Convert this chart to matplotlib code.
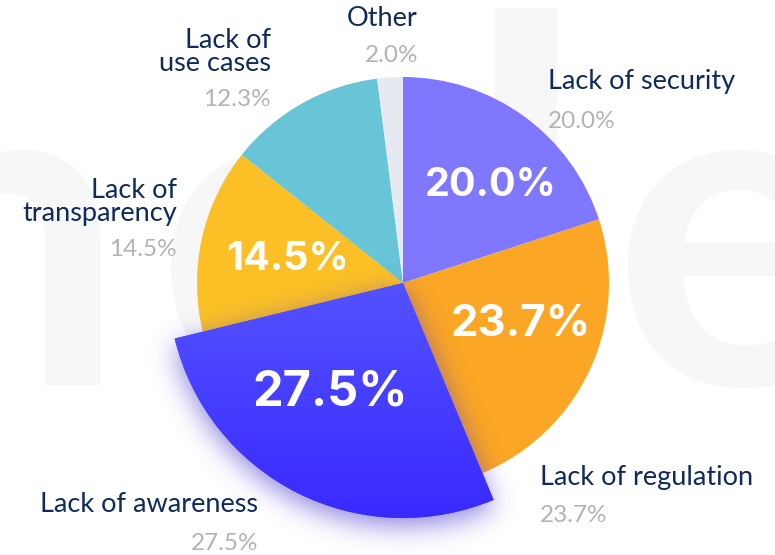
import numpy as np
import matplotlib
matplotlib.use("Agg")
import matplotlib.pyplot as plt
from matplotlib.colors import to_rgb

# ---------------- data ----------------
categories = ["Lack of security", "Lack of regulation", "Lack of awareness",
              "Lack of transparency", "Lack of use cases", "Other"]
values = [20.0, 23.7, 27.5, 14.5, 12.3, 2.0]
label_lines = ["Lack of security", "Lack of regulation", "Lack of awareness",
               "Lack of\ntransparency", "Lack of\nuse cases", "Other"]
colors = ["#8077FF", "#FBA624", "#4846FF", "#FCC026", "#67C5D7", "#E7E9F1"]

W, H = 775, 555
def Y(y):
    return H - y

fig = plt.figure(figsize=(W / 100, H / 100), dpi=100)
ax = fig.add_axes([0, 0, 1, 1])

# ---------------- watermark ----------------
wm = "#F7F7F7"
ax.text(125, Y(385), "n", fontsize=324, color=wm, fontweight="bold", family="Lato",
        ha="right", va="baseline", zorder=0)
ax.text(285, Y(385), "o", fontsize=324, color=wm, fontweight="bold", family="Lato",
        ha="center", va="baseline", zorder=0)
ax.text(588, Y(385), "d", fontsize=364, color=wm, fontweight="bold", family="Lato",
        ha="right", va="baseline", zorder=0)
ax.text(612, Y(385), "e", fontsize=324, color=wm, fontweight="bold", family="Lato",
        ha="left", va="baseline", zorder=0)

# ---------------- pie ----------------
cx, cy, R = 403, Y(283), 206
wedges, _ = ax.pie(values, colors=colors, startangle=90, counterclock=False,
                   radius=R, center=(cx, cy), wedgeprops=dict(linewidth=0))
for w in wedges:
    w.set_zorder(1)

aw = wedges[2]
aw.set_radius(235)
aw.set_zorder(3)

# shadow / glow of the highlighted slice
path = aw.get_patch_transform().transform_path(aw.get_path())
xs = np.arange(W) + 0.5
ys = H - (np.arange(H) + 0.5)
XX, YY = np.meshgrid(xs, ys)
off = 8
mask = path.contains_points(np.c_[XX.ravel(), YY.ravel() + off]).reshape(H, W).astype(float)

def gmat(n, s):
    i = np.arange(n)
    K = np.exp(-(i[:, None] - i[None, :]) ** 2 / (2 * s * s))
    return K / (np.sqrt(2 * np.pi) * s)

sig = 13
blur = gmat(H, sig) @ mask @ gmat(W, sig).T
sh = np.zeros((H, W, 4))
sh[..., :3] = np.array([70, 55, 205]) / 255
sh[..., 3] = np.clip(blur, 0, 1) * 0.6
ax.imshow(sh, extent=(0, W, 0, H), origin="upper", zorder=2, interpolation="bilinear")

# gradient fill of the highlighted slice
top = np.array(to_rgb("#5454FF"))
bot = np.array(to_rgb("#3828FF"))
t = np.linspace(0, 1, 256)[:, None, None]
grad = top * (1 - t) + bot * t
im = ax.imshow(grad, extent=(150, 520, Y(525), Y(275)), origin="upper", aspect="auto",
               zorder=3.5, interpolation="bilinear")
im.set_clip_path(aw)

# ---------------- inner labels ----------------
inner_pos = {0: (491, 185, 28.5), 1: (521, 325, 31.5), 2: (330, 392, 35), 3: (288, 260, 28.5)}
for i, (x, y, fs) in inner_pos.items():
    ax.text(x, Y(y), f"{values[i]:.1f}%", fontsize=fs, color="white", fontweight="bold",
            family="Inter", ha="center", va="center", zorder=5)

# ---------------- outer labels ----------------
navy = "#0E2B5C"
grey = "#B3B3B3"
outer = {
    0: (548, 82, 121, "left"),
    1: (540, 477, 516, "left"),
    2: (258, 505, 544, "right"),
    3: (177, 202, 250, "right"),
    4: (271, 52, 100, "right"),
    5: (418, 18, 56, "right"),
}
for i, (x, y1, y2, ha) in outer.items():
    ax.text(x, Y(y1), label_lines[i], fontsize=19.5, color=navy, family="Lato",
            ha=ha, va="center", linespacing=0.9, multialignment=ha, zorder=6)
    ax.text(x, Y(y2), f"{values[i]:.1f}%", fontsize=17.5, color=grey, family="Lato",
            fontweight="normal", ha=ha, va="center", zorder=6)

ax.set_xlim(0, W)
ax.set_ylim(0, H)
ax.set_aspect("equal")
ax.axis("off")
fig.savefig("out.png", dpi=100, facecolor="white")
